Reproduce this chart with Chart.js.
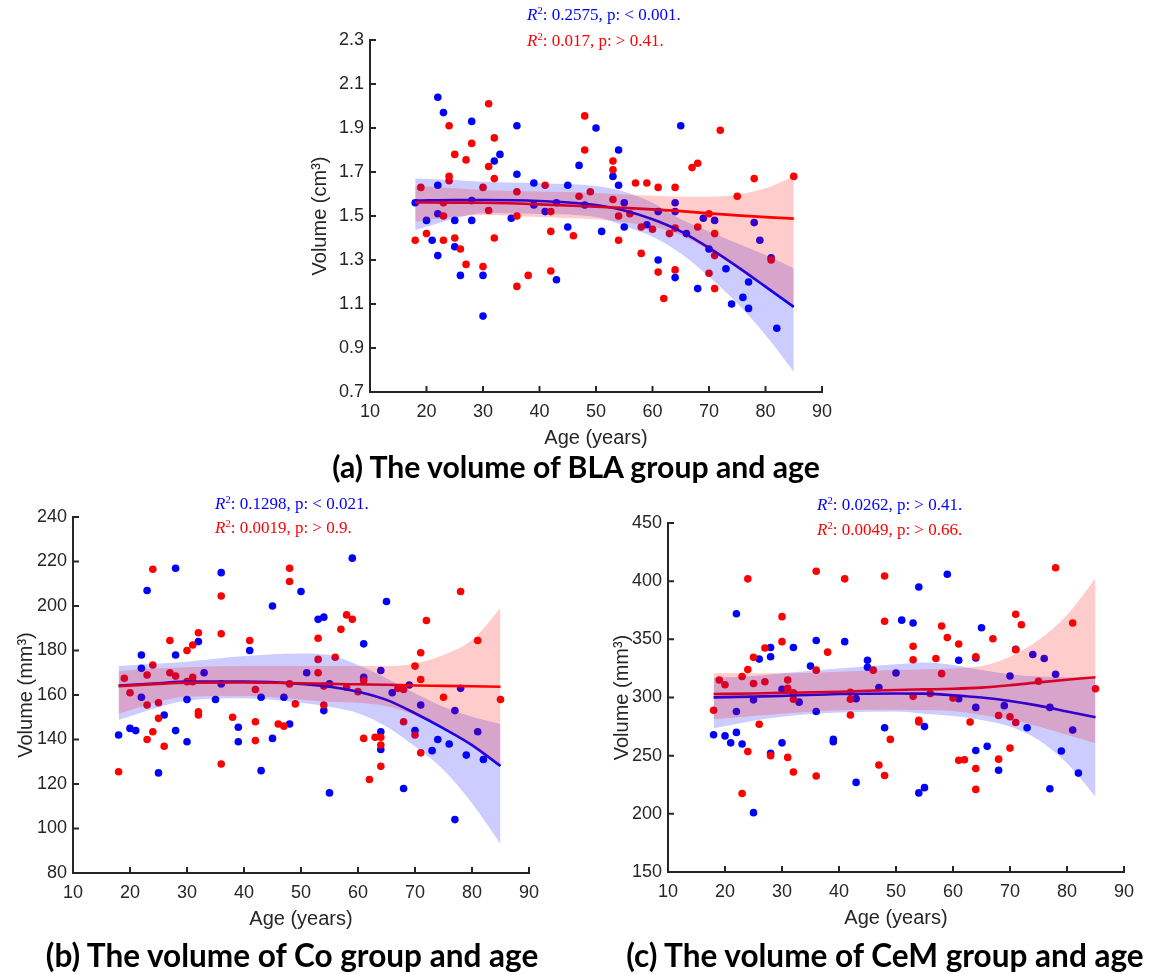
<!DOCTYPE html>
<html><head><meta charset="utf-8">
<script src="https://cdn.jsdelivr.net/npm/chart.js@4.4.1/dist/chart.umd.min.js"></script>
<style>
body{margin:0;background:#fff;width:1152px;height:974px;position:relative;overflow:hidden}
canvas{position:absolute}
.r2{position:absolute;font-family:'Liberation Serif','Times New Roman',serif;font-size:17px;line-height:18px;height:18px;white-space:nowrap}
.r2 sup{font-size:0.62em;vertical-align:0.55em;line-height:0}
.cap{position:absolute;font-family:Lato,'Noto Sans',sans-serif;font-weight:bold;white-space:nowrap;text-align:center;color:#000;width:700px}
</style></head><body>
<canvas id="ca" width="570" height="460" style="left:280px;top:0px"></canvas>
<canvas id="cb" width="560" height="460" style="left:0px;top:480px"></canvas>
<canvas id="cc" width="562" height="460" style="left:590px;top:480px"></canvas>

<div class="r2" style="left:527px;top:6px;color:#0000ff"><i>R</i><sup>2</sup>: 0.2575, p: &lt; 0.001.</div>
<div class="r2" style="left:527px;top:32px;color:#ff0000"><i>R</i><sup>2</sup>: 0.017, p: &gt; 0.41.</div>
<div class="r2" style="left:215px;top:495px;color:#0000ff"><i>R</i><sup>2</sup>: 0.1298, p: &lt; 0.021.</div>
<div class="r2" style="left:215px;top:519px;color:#ff0000"><i>R</i><sup>2</sup>: 0.0019, p: &gt; 0.9.</div>
<div class="r2" style="left:817px;top:496px;color:#0000ff"><i>R</i><sup>2</sup>: 0.0262, p: &gt; 0.41.</div>
<div class="r2" style="left:817px;top:521px;color:#ff0000"><i>R</i><sup>2</sup>: 0.0049, p: &gt; 0.66.</div>

<div class="cap" id="tA" data-cx="576" data-cy="466" data-w="491">(a) The volume of BLA group and age</div>
<div class="cap" id="tB" data-cx="292" data-cy="955" data-w="495">(b) The volume of Co group and age</div>
<div class="cap" id="tC" data-cx="885" data-cy="955" data-w="520">(c) The volume of CeM group and age</div>

<script>
// ---------- data ----------
const AGES = [18,25,30,40,50,55,60,65,70,75,80,85];

// Panel (a) BLA, cm3
const blueAgeA = [18,20,21,22,22,22,22,23,25,25,26,28,28,28,30,30,32,33,35,36,36,39,39,41,43,43,45,45,47,48,50,51,53,54,54,55,55,59,61,61,64,64,64,65,66,68,69,70,71,73,74,76,77,77,78,79,81,82];
const blueVolA = [1.56,1.48,1.39,2.04,1.64,1.51,1.32,1.97,1.48,1.36,1.23,1.93,1.57,1.48,1.23,1.045,1.75,1.78,1.49,1.91,1.69,1.65,1.55,1.52,1.56,1.21,1.64,1.45,1.73,1.55,1.90,1.43,1.68,1.80,1.64,1.56,1.45,1.46,1.52,1.30,1.56,1.52,1.22,1.91,1.42,1.17,1.49,1.35,1.48,1.26,1.10,1.13,1.20,1.08,1.47,1.39,1.31,0.99];
const redAgeA = [18,19,20,23,23,23,24,24,24,25,25,26,27,27,28,30,30,31,31,31,32,32,32,36,36,36,38,41,42,42,42,46,47,48,48,49,53,53,53,54,54,56,57,58,58,59,60,61,61,62,63,64,64,64,67,68,68,70,70,71,71,71,72,75,78,81,85];
const redVolA = [1.39,1.63,1.42,1.56,1.50,1.39,1.91,1.68,1.66,1.78,1.40,1.35,1.755,1.28,1.83,1.63,1.27,2.01,1.725,1.525,1.855,1.67,1.40,1.61,1.50,1.18,1.23,1.64,1.52,1.43,1.25,1.41,1.59,1.955,1.80,1.61,1.75,1.71,1.575,1.50,1.39,1.51,1.65,1.45,1.33,1.65,1.44,1.63,1.245,1.125,1.42,1.63,1.445,1.255,1.72,1.74,1.45,1.51,1.24,1.42,1.32,1.17,1.89,1.59,1.67,1.30,1.68];
const blueFitA = [1.570,1.573,1.573,1.568,1.550,1.525,1.485,1.430,1.355,1.270,1.179,1.087];
const blueUpA  = [1.671,1.664,1.656,1.649,1.636,1.610,1.560,1.485,1.430,1.376,1.323,1.262];
const blueLoA  = [1.436,1.488,1.512,1.509,1.495,1.455,1.406,1.330,1.224,1.103,0.959,0.792];
const redFitA  = [1.562,1.561,1.560,1.553,1.542,1.537,1.530,1.522,1.512,1.503,1.495,1.488];
const redUpA   = [1.636,1.626,1.618,1.611,1.605,1.598,1.592,1.588,1.588,1.597,1.626,1.680];
const redLoA   = [1.474,1.497,1.505,1.495,1.485,1.472,1.452,1.412,1.345,1.262,1.178,1.092];
const yTicksA = [0.7, 2.3, 0.2];

// Panel (b) Co, mm3
const blueAgeB = [18,20,21,22,22,22,23,25,26,28,28,28,30,30,32,33,35,36,36,39,39,41,43,43,45,45,47,48,50,51,53,54,54,55,55,59,61,61,64,64,64,65,66,68,69,70,71,73,74,76,77,77,78,79,81,82];
const blueVolB = [142,145,144,178,172,159,207,125,151,217,178,144,158,139,184,170,158,215,165,145.5,139,180,159,126,200,140.5,159,147,206.5,170,194,195,153,165,116,221.5,183,168,171,143.5,135.5,202,161,118,164.5,144,155.5,135,140,138,104,153,163,133,143.5,131];
const redAgeB = [18,19,20,23,23,23,24,24,24,25,25,26,27,27,28,30,30,31,31,31,32,32,32,36,36,36,38,41,42,42,42,46,47,48,48,48,49,53,53,53,54,54,56,57,58,58,59,60,61,61,62,63,64,64,64,67,68,68,70,70,71,71,71,72,75,78,81,85];
const redVolB = [125.5,167.5,161,169,155.5,140,216.5,173.5,143.5,156.5,149.5,137,184.5,170,168.5,180,166,182.5,168,166,188,152.5,151,204.5,187.5,129,150,184.5,162.5,148,139.5,147,146,217,211,165,156,185.5,176,170,164,155.5,177,189.5,196,163.5,194,161.5,166.5,140.5,122,141,141,137.5,128,163,162.5,148,173,142,179,167,134,193.5,159,206.5,184.5,158];
const blueFitB = [164.3,165.3,166.0,166.0,165.0,163.7,161.5,157.8,151.8,145.0,137.5,128.1];
const blueUpB  = [173.0,174.2,175.0,177.5,178.7,178.0,173.5,167.5,160.8,154.7,150.2,147.0];
const blueLoB  = [148.8,154.5,157.5,158.5,156.5,154.7,151.8,145.8,136.8,126.3,111.3,93.0];
const redFitB  = [164.0,165.0,165.5,165.6,165.3,165.0,164.8,164.6,164.3,164.1,163.9,163.7];
const redUpB   = [170.8,172.0,172.5,173.0,173.0,173.0,173.0,173.0,174.2,178.0,184.7,199.0];
const redLoB   = [151.5,157.0,159.2,159.5,158.0,157.0,156.5,155.0,151.0,145.0,137.0,128.0];
const yTicksB = [80, 240, 20];

// Panel (c) CeM, mm3
const blueAgeC = [18,20,21,22,22,22,23,25,25,26,28,28,28,30,30,32,33,35,36,36,39,39,41,43,43,45,45,47,48,50,51,53,54,54,55,55,59,61,61,64,64,64,65,66,68,69,70,71,73,74,76,77,77,78,79,81,82];
const blueVolC = [268,267,261,372,288,270,260,298,201,333,343,335,252,307,261,343,296,327,349,288,264,262,348,299,227,332,326,308.5,274,321,366.5,364,395,218,275,222.5,406,332,299,334,291.5,254.5,360,258,237.5,293,318.5,341.5,274,337,333.5,221.5,291.5,320,254,272,235];
const redAgeC = [18,19,20,23,23,24,24,24,25,25,26,27,27,28,30,30,31,31,31,32,32,32,36,36,36,38,41,42,42,42,46,47,48,48,48,49,53,53,53,54,54,56,57,58,58,59,60,61,61,62,63,64,64,64,67,68,68,70,70,71,71,71,72,75,78,81,85];
const redVolC = [289,315,311,318,217.5,402,324,253.5,334.5,312,277,342.5,313.5,250,369.5,348,315,308,248.5,304,298.5,236,408.5,323.5,232.5,339,402,304.5,298.5,285,323.5,242,404.5,365.5,233,264,344,332.5,301,280.5,279,303.5,333.5,361.5,320.5,351.5,299.5,346,246,246.5,279,335,239,221,350.5,284.5,247,283.5,256.5,371.5,341,278.5,362.5,314,411.5,364,307.5];
const blueFitC = [300.1,300.8,301.3,303.0,303.5,303.3,302.0,300.0,297.0,293.0,288.0,283.0];
const blueUpC  = [317.0,318.5,320.8,325.0,328.5,330.0,328.0,323.6,320.0,318.0,317.5,317.5];
const blueLoC  = [273.5,280.0,283.5,287.0,288.0,286.0,284.0,280.7,275.0,263.5,243.4,214.7];
const redFitC  = [303.0,303.5,304.0,305.0,306.5,307.0,307.5,308.5,310.5,313.0,315.3,317.4];
const redUpC   = [320.8,320.8,320.8,322.2,323.6,324.3,325.0,327.0,335.0,349.4,371.0,402.5];
const redLoC   = [281.2,284.0,286.0,289.0,289.5,289.0,288.5,285.0,281.0,275.0,268.0,260.6];
const yTicksC = [150, 450, 50];

const xTicks = [10, 90, 10];

// ---------- drawing ----------
const AXIS = '#262626';
const BLUE = '#0000ff', RED = '#ff0000';
const BLUE_BAND = 'rgba(0,0,255,0.2)', RED_BAND = 'rgba(255,0,0,0.2)';
Chart.defaults.font.family = "'Liberation Sans', Arial, sans-serif";
Chart.defaults.color = AXIS;

const pts = (xs, ys) => xs.map((x, i) => ({x: x, y: ys[i]}));

const inTicks = {
  id: 'inTicks',
  afterDraw(chart) {
    const ctx = chart.ctx, a = chart.chartArea;
    const xs = chart.scales.x, ys = chart.scales.y;
    ctx.save();
    ctx.strokeStyle = AXIS; ctx.lineWidth = 2;
    ctx.beginPath();
    xs.ticks.forEach(t => { const p = xs.getPixelForValue(t.value); ctx.moveTo(p, a.bottom); ctx.lineTo(p, a.bottom - 6); });
    ys.ticks.forEach(t => { const p = ys.getPixelForValue(t.value); ctx.moveTo(a.left, p); ctx.lineTo(a.left + 6, p); });
    ctx.stroke();
    ctx.restore();
  }
};

function curve(vals, color, width, order, fill, bg) {
  return {type: 'line', data: pts(AGES, vals), showLine: true, borderColor: color, borderWidth: width,
    pointRadius: 0, pointHoverRadius: 0, cubicInterpolationMode: 'monotone', order: order,
    fill: fill, backgroundColor: bg || 'rgba(0,0,0,0)'};
}

function panel(id, p) {
  new Chart(document.getElementById(id), {
    type: 'scatter',
    data: {datasets: [
      curve(p.redUp, 'rgba(0,0,0,0)', 0, 1, '+1', RED_BAND),
      curve(p.redLo, 'rgba(0,0,0,0)', 0, 1, false),
      curve(p.blueUp, 'rgba(0,0,0,0)', 0, 2, '+1', BLUE_BAND),
      curve(p.blueLo, 'rgba(0,0,0,0)', 0, 2, false),
      curve(p.redFit, RED, 2.6, 3, false),
      curve(p.blueFit, BLUE, 2.6, 4, false),
      {type: 'scatter', data: pts(p.redAge, p.redVol), backgroundColor: RED, borderWidth: 0, pointRadius: 3.8, pointHoverRadius: 3.8, order: 5},
      {type: 'scatter', data: pts(p.blueAge, p.blueVol), backgroundColor: BLUE, borderWidth: 0, pointRadius: 3.8, pointHoverRadius: 3.8, order: 6}
    ]},
    options: {
      responsive: false, animation: false, devicePixelRatio: 1,
      events: [],
      layout: {padding: p.pad},
      plugins: {legend: {display: false}, tooltip: {enabled: false}},
      scales: {
        x: {
          type: 'linear', min: xTicks[0], max: xTicks[1],
          ticks: {stepSize: xTicks[2], padding: 9, font: {size: 18}, color: AXIS, maxRotation: 0},
          grid: {display: false, drawTicks: false},
          border: {display: true, color: AXIS, width: 2},
          title: {display: true, text: 'Age (years)', font: {size: 20}, color: AXIS, padding: {top: 0, bottom: 0}},
          afterFit: s => { s.height = 58; }
        },
        y: {
          type: 'linear', min: p.yT[0], max: p.yT[1],
          ticks: {stepSize: p.yT[2], padding: 6, font: {size: 18}, color: AXIS},
          grid: {display: false, drawTicks: false},
          border: {display: true, color: AXIS, width: 2},
          title: {display: true, text: p.yLabel, font: {size: 20}, color: AXIS, padding: {top: p.yTitlePad, bottom: 0}},
          afterFit: s => { s.width = p.yWidth; }
        }
      }
    },
    plugins: [inTicks]
  });
}

panel('ca', {redUp: redUpA, redLo: redLoA, blueUp: blueUpA, blueLo: blueLoA, redFit: redFitA, blueFit: blueFitA,
  redAge: redAgeA, redVol: redVolA, blueAge: blueAgeA, blueVol: blueVolA, yT: yTicksA,
  yLabel: 'Volume (cm³)', pad: {left: 0, right: 28, top: 40, bottom: 10}, yWidth: 90, yTitlePad: 28});
panel('cb', {redUp: redUpB, redLo: redLoB, blueUp: blueUpB, blueLo: blueLoB, redFit: redFitB, blueFit: blueFitB,
  redAge: redAgeB, redVol: redVolB, blueAge: blueAgeB, blueVol: blueVolB, yT: yTicksB,
  yLabel: 'Volume (mm³)', pad: {left: 0, right: 31, top: 37, bottom: 9}, yWidth: 73, yTitlePad: 14});
panel('cc', {redUp: redUpC, redLo: redLoC, blueUp: blueUpC, blueLo: blueLoC, redFit: redFitC, blueFit: blueFitC,
  redAge: redAgeC, redVol: redVolC, blueAge: blueAgeC, blueVol: blueVolC, yT: yTicksC,
  yLabel: 'Volume (mm³)', pad: {left: 0, right: 28, top: 43, bottom: 10}, yWidth: 78, yTitlePad: 20});

// captions: fit font size to the measured width of the reference
const mctx = document.createElement('canvas').getContext('2d');
document.querySelectorAll('.cap').forEach(el => {
  mctx.font = "bold 100px Lato, 'Noto Sans', sans-serif";
  const w = mctx.measureText(el.textContent).width;
  const fs = 100 * (+el.dataset.w) / w;
  el.style.fontSize = fs.toFixed(2) + 'px';
  el.style.lineHeight = Math.round(fs * 1.2) + 'px';
  el.style.left = (+el.dataset.cx - 350) + 'px';
  el.style.top = (+el.dataset.cy - Math.round(fs * 1.2) / 2) + 'px';
});
</script>
</body></html>
